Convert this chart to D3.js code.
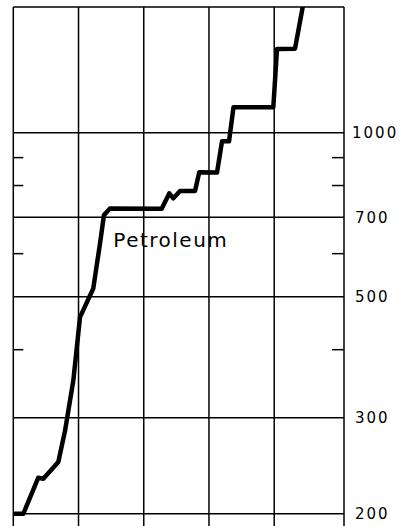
<!DOCTYPE html>
<meta charset="utf-8">
<style>
body { margin: 0; background: #fff; }
.grid line, .border line { stroke: #000; stroke-width: 1.5px; }
.tick-minor line { stroke: #000; stroke-width: 1.5px; }
.series { fill: none; stroke: #000; stroke-width: 4.5px; stroke-linejoin: round; stroke-linecap: round; }
.ylab { font-family: "DejaVu Sans", sans-serif; font-size: 15px; letter-spacing: 2px; }
.note { font-family: "DejaVu Sans", sans-serif; font-size: 20px; letter-spacing: 1.5px; }
</style>
<body>
<script src="https://cdn.jsdelivr.net/npm/d3@7"></script>
<script>

// petroleum index (log scale), x in plain period units
var periods = [0.26, 1.53, 3.83, 4.60, 6.90, 7.93, 9.20, 10.23, 12.26, 13.29, 13.9, 14.82,
               22.75, 23.92, 24.53, 25.56, 27.86, 28.51, 31.23, 32.0, 33.07, 33.76,
               39.86, 40.43, 43.19, 44.45];
var values  = [200, 200, 233, 232, 249, 284, 351, 459, 518, 626, 706, 726,
               725, 774, 758, 782, 782, 846, 845, 964, 964, 1113,
               1113, 1423, 1426, 1720];

var xGrid = [0, 10, 20, 30, 40, 50.7];
var yGrid = [200, 300, 500, 700, 1000];
var yLabels = ["200", "300", "500", "700", "1000"];
var yMinor = [400, 600, 800, 900];
var label = {text: "Petroleum", x: 15.33, y: 617};

var width = 417, height = 526;

var x = d3.scaleLinear().domain([0, 50.7]).range([13.3, 344]);
var y = d3.scaleLog().domain([190, 1700]).range([526, 7]);

var svg = d3.select("body").append("svg")
    .attr("width", width)
    .attr("height", height);

// vertical lines (incl. left/right frame)
svg.append("g").attr("class", "grid")
  .selectAll("line").data(xGrid).enter().append("line")
    .attr("x1", function(d) { return x(d); })
    .attr("x2", function(d) { return x(d); })
    .attr("y1", y(1700))
    .attr("y2", height);

// top frame
svg.append("g").attr("class", "border")
  .append("line")
    .attr("x1", x(0)).attr("x2", x(50.7))
    .attr("y1", y(1700)).attr("y2", y(1700));

// horizontal grid
svg.append("g").attr("class", "grid")
  .selectAll("line").data(yGrid).enter().append("line")
    .attr("x1", x(0)).attr("x2", x(50.7))
    .attr("y1", function(d) { return y(d); })
    .attr("y2", function(d) { return y(d); });

// minor ticks, inward on both sides
var minor = svg.append("g").attr("class", "tick-minor");
minor.selectAll(".l").data(yMinor).enter().append("line").attr("class", "l")
    .attr("x1", x(0)).attr("x2", x(0) + 10)
    .attr("y1", function(d) { return y(d); })
    .attr("y2", function(d) { return y(d); });
minor.selectAll(".r").data(yMinor).enter().append("line").attr("class", "r")
    .attr("x1", x(50.7) - 12).attr("x2", x(50.7))
    .attr("y1", function(d) { return y(d); })
    .attr("y2", function(d) { return y(d); });

// right labels
svg.append("g").selectAll("text").data(yGrid).enter().append("text")
    .attr("class", "ylab")
    .attr("x", function(d, i) { return yLabels[i].length > 3 ? 352 : 355; })
    .attr("y", function(d) { return y(d); })
    .attr("dy", "0.36em")
    .text(function(d, i) { return yLabels[i]; });

// series
svg.append("clipPath").attr("id", "plot")
  .append("rect")
    .attr("x", x(0)).attr("y", y(1700))
    .attr("width", x(50.7) - x(0)).attr("height", height - y(1700));

var line = d3.line()
    .x(function(d, i) { return x(periods[i]); })
    .y(function(d) { return y(d); });

svg.append("path")
    .datum(values)
    .attr("class", "series")
    .attr("clip-path", "url(#plot)")
    .attr("d", line);

svg.append("text")
    .attr("class", "note")
    .attr("x", x(label.x))
    .attr("y", y(label.y))
    .text(label.text);

</script>
</body>
